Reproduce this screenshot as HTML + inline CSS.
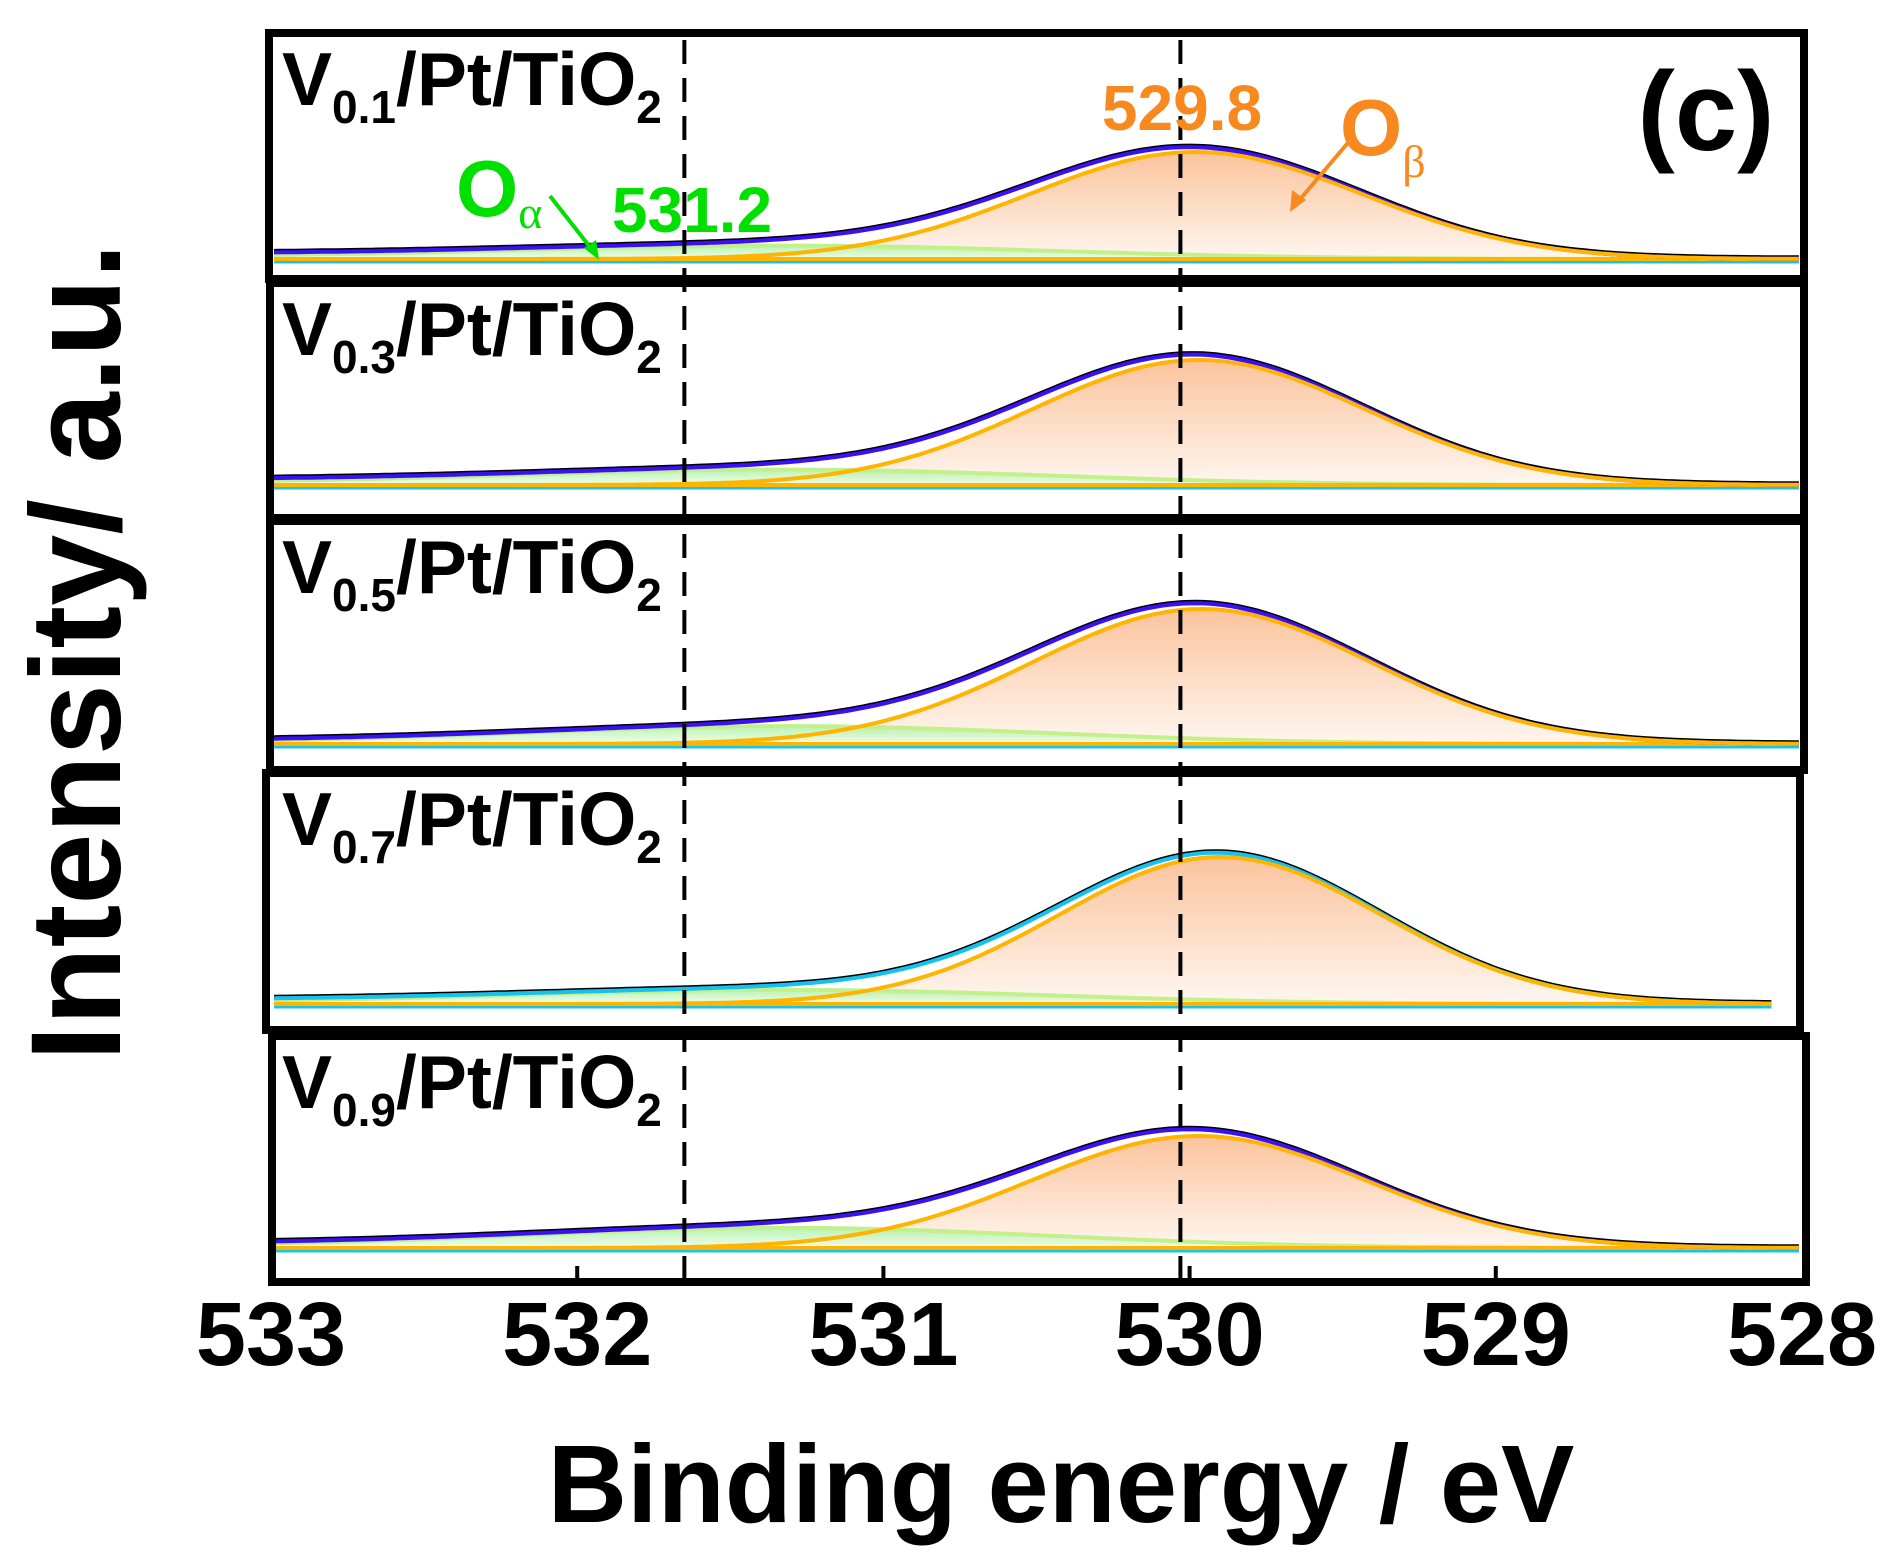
<!DOCTYPE html>
<html><head><meta charset="utf-8">
<style>
html,body{margin:0;padding:0;background:#fff;}
svg{display:block;}
text{font-family:"Liberation Sans",Arial,sans-serif;font-weight:bold;}
</style></head>
<body>
<svg id="chart" width="1891" height="1562" viewBox="0 0 1891 1562" xmlns="http://www.w3.org/2000/svg">
<defs>
<linearGradient id="gb" x1="0" y1="0" x2="0" y2="1">
<stop offset="0" stop-color="#fbc39c"/><stop offset="1" stop-color="#fff6ef"/>
</linearGradient>
<linearGradient id="ga" x1="0" y1="0" x2="0" y2="1">
<stop offset="0" stop-color="#9ff09a"/><stop offset="1" stop-color="#eefde8"/>
</linearGradient>
</defs>
<g id="plots"></g>
<g id="frames"></g>
<g id="overlay"></g>

<text x="0" y="0" font-size="128" text-anchor="middle" transform="translate(120,652) rotate(-90)">Intensity/ a.u.</text>
<text x="1061" y="1522" font-size="110" text-anchor="middle">Binding energy / eV</text>
<text x="1706" y="150" font-size="112" text-anchor="middle">(c)</text>

<text x="1182" y="130" font-size="64" fill="#f7891e" text-anchor="middle">529.8</text>
<text x="1340" y="155" font-size="80" fill="#f7891e">O<tspan font-size="46" font-weight="normal" font-family="Liberation Serif,serif" dy="22">β</tspan></text>
<line x1="1352" y1="138" x2="1296" y2="204" stroke="#f7891e" stroke-width="4"/>
<path d="M1290,212 L1292,190 L1306,200 z" fill="#f7891e"/>

<text x="456" y="216" font-size="80" fill="#00e000">O<tspan font-size="46" font-weight="normal" font-family="Liberation Serif,serif" dy="12">α</tspan></text>
<line x1="550" y1="196" x2="597" y2="256" stroke="#00e000" stroke-width="4"/>
<path d="M599,260 L584,248 L596,240 z" fill="#00e000"/>
<text x="692" y="232" font-size="64" fill="#00e000" text-anchor="middle">531.2</text>

<script>
// ---- data ----
const panelNames = ["0.1","0.3","0.5","0.7","0.9"];
const betaCenter = [529.98, 529.97, 529.96, 529.90, 529.97];
const betaHeight = [107, 125, 135, 147, 112];
const betaFwhm = [1.28, 1.28, 1.30, 1.24, 1.28];
const alphaCenter = [531.3, 531.3, 531.3, 531.3, 531.3];
const alphaHeight = [12, 14, 17, 13, 19];
const alphaFwhm = [2.0, 2.0, 2.0, 2.0, 2.0];
const bgLeft = [5, 5, 3, 4, 4];
const xTicks = [533, 532, 531, 530, 529, 528];
const refLines = [531.65, 530.03];

// ---- layout ----
const panelTop = [33, 283, 521, 773, 1036];
const panelBot = [279, 518, 770, 1030, 1282];
const panelLeft = [269, 270, 270, 266, 272];
const panelRight = [1804, 1804, 1804, 1800, 1806];
const baseY = [259, 485, 744, 1004, 1248];
const X0 = 271, X1 = 1802, E0 = 533, E1 = 528;
function xs(e){ return X0 + (E0 - e) * (X1 - X0) / (E0 - E1); }
function gauss(e, c, h, f){ const s = f / 2.3548; return h * Math.exp(-((e - c) * (e - c)) / (2 * s * s)); }

const NS = "http://www.w3.org/2000/svg";
const plots = document.getElementById("plots");
const frames = document.getElementById("frames");
const overlay = document.getElementById("overlay");
function mk(tag, attrs, parent){ const el = document.createElementNS(NS, tag); for (const k in attrs) el.setAttribute(k, attrs[k]); parent.appendChild(el); return el; }

for (let p = 0; p < 5; p++) {
  const by = baseY[p];
  const eStart = 532.99, eEnd = (p === 3) ? 528.1 : 528.01;
  const n = 220;
  let env = [], beta = [], alpha = [];
  for (let i = 0; i <= n; i++) {
    const e = eStart + (eEnd - eStart) * i / n;
    const bg = e > 529 ? bgLeft[p] * (e - 529) / 4 : 0;
    const a = gauss(e, alphaCenter[p], alphaHeight[p], alphaFwhm[p]);
    const b = gauss(e, betaCenter[p], betaHeight[p], betaFwhm[p]);
    const x = xs(e).toFixed(1);
    env.push(x + "," + (by - bg - a - b).toFixed(1));
    beta.push(x + "," + (by - b).toFixed(1));
    alpha.push(x + "," + (by - a - bg * 0.5).toFixed(1));
  }
  const xa = xs(eStart).toFixed(1), xb = xs(eEnd).toFixed(1);
  const g = mk("g", {}, plots);
  
  

  const fb = mk("polygon", {points: xa + "," + by + " " + beta.join(" ") + " " + xb + "," + by, fill: "url(#gb)"}, g);
  
  
  const fa = mk("polygon", {points: xa + "," + by + " " + alpha.join(" ") + " " + xb + "," + by, fill: "url(#ga)", opacity: "0.75"}, g);
  
  
  const la = mk("polyline", {points: alpha.join(" "), fill: "none", stroke: "#c4f08c", "stroke-width": 4}, g);
  
  
  const cy = mk("line", {x1: xa, y1: by + 3, x2: xb, y2: by + 3, stroke: "#19c3e8", "stroke-width": 3}, g);
  
  
  const bl = mk("line", {x1: xa, y1: by, x2: xb, y2: by, stroke: "#ffb400", "stroke-width": 4}, g);
  
  
  const lk = mk("polyline", {points: env.join(" "), fill: "none", stroke: "#000", "stroke-width": 5, transform: "translate(0,-1)"}, g);
  
  
  const lv = mk("polyline", {points: env.join(" "), fill: "none", stroke: (p === 3 ? "#18c0f0" : "#3a10f5"), "stroke-width": 4}, g);
  
  
  const lb = mk("polyline", {points: beta.join(" "), fill: "none", stroke: "#ffb400", "stroke-width": 4}, g);
  
  

  const fr = mk("rect", {x: panelLeft[p], y: panelTop[p], width: panelRight[p] - panelLeft[p], height: panelBot[p] - panelTop[p], fill: "none", stroke: "#000", "stroke-width": 8}, frames);
  
  

  const t = mk("text", {x: 282, y: panelTop[p] + 72, "font-size": 75}, overlay);
  
  
  const parts = [["V", null, 0], [panelNames[p], 46, 18], ["/Pt/TiO", null, -18], ["2", 46, 18]];
  for (const pr of parts) {
    const ts = mk("tspan", pr[1] ? {"font-size": pr[1], dy: pr[2]} : {dy: pr[2]}, t);
    ts.textContent = pr[0];
  }
}

for (let i = 0; i < refLines.length; i++) {
  const x = xs(refLines[i]);
  const l = mk("line", {x1: x, y1: 40, x2: x, y2: 1278, stroke: "#000", "stroke-width": 4, "stroke-dasharray": "24,14"}, overlay);
  
  
}

for (let i = 0; i < xTicks.length; i++) {
  const x = xs(xTicks[i]);
  if (i > 0 && i < xTicks.length - 1) {
    const tk = mk("line", {x1: x, y1: 1278, x2: x, y2: 1266, stroke: "#000", "stroke-width": 4}, overlay);
    
    
  }
  const tl = mk("text", {x: x, y: 1365, "font-size": 90, "text-anchor": "middle"}, overlay);
  
  
  tl.textContent = xTicks[i];
}
</script>
</svg>
</body></html>
